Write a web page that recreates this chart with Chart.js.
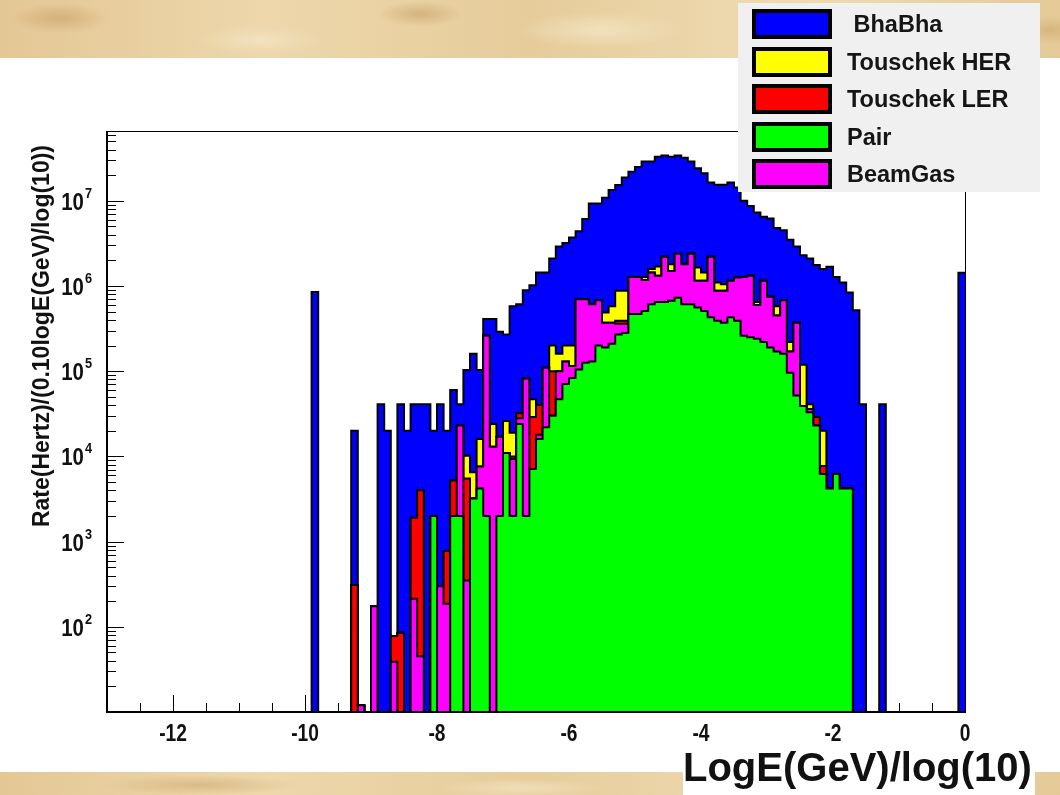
<!DOCTYPE html>
<html>
<head>
<meta charset="utf-8">
<script src="https://cdn.jsdelivr.net/npm/chart.js@4.4.1/dist/chart.umd.min.js"></script>
<style>
  html, body { margin: 0; padding: 0; }
  body {
    width: 1060px; height: 795px; overflow: hidden; position: relative;
    background-color: #e7cd9d;
    background-image:
      radial-gradient(ellipse 70px 22px at 60px 18px, rgba(196,156,96,.55), rgba(196,156,96,0) 70%),
      radial-gradient(ellipse 90px 20px at 260px 40px, rgba(243,228,196,.8), rgba(243,228,196,0) 70%),
      radial-gradient(ellipse 60px 18px at 420px 14px, rgba(190,150,92,.5), rgba(190,150,92,0) 70%),
      radial-gradient(ellipse 120px 26px at 600px 30px, rgba(245,232,200,.7), rgba(245,232,200,0) 70%),
      radial-gradient(ellipse 50px 20px at 1050px 30px, rgba(200,160,100,.5), rgba(200,160,100,0) 70%),
      radial-gradient(ellipse 140px 14px at 200px 785px, rgba(200,162,104,.5), rgba(200,162,104,0) 70%),
      radial-gradient(ellipse 120px 14px at 520px 788px, rgba(244,230,198,.7), rgba(244,230,198,0) 70%),
      linear-gradient(90deg, #e4c795 0%, #edd7ab 25%, #e6cc9b 50%, #efdbb2 75%, #e5ca98 100%);
  }
  #sheet { position: absolute; left: 0; top: 58px; width: 1060px; height: 714px; background: #fff; }
  #plot { position: absolute; left: 0; top: 0; }
  #legend {
    position: absolute; left: 738px; top: 3px; width: 302px; height: 189px;
    background: #f0f0f0;
    font: bold 23.5px "Liberation Sans", Arial, sans-serif; color: #151515;
  }
  #legend .row { position: absolute; left: 0; height: 30px; width: 302px; }
  #legend .box {
    position: absolute; left: 14px; top: 0; width: 72px; height: 22px;
    border: 4px solid #000; filter: blur(0.4px);
  }
  #legend .name { position: absolute; left: 109px; top: 2px; line-height: 26px; filter: blur(0.3px); }
  #xtitle {
    position: absolute; left: 683px; top: 742px; width: 352px; height: 53px; background: #fff;
    font: bold 40px "Liberation Sans", Arial, sans-serif; color: #111; line-height: 50px;
    white-space: nowrap; filter: blur(0.3px);
  }
</style>
</head>
<body>
<div id="sheet"></div>
<canvas id="plot" width="1060" height="795"></canvas>
<div id="legend"></div>
<div id="xtitle">LogE(GeV)/log(10)</div>
<script>
// histogram binning: 130 bins of 0.1 in log10(E/GeV), from -13 to 0
const xMin = -13;
const binWidth = 0.1;

// rate per bin for each background source
const pairRate = [
  0, 0, 0, 0, 0, 0, 0, 0, 0, 0,
  0, 0, 0, 0, 0, 0, 0, 0, 0, 0,
  0, 0, 0, 0, 0, 0, 0, 0, 0, 0,
  0, 0, 0, 0, 0, 0, 0, 0, 0, 0,
  0, 0, 0, 0, 0, 0, 0, 0, 0, 2000,
  0, 0, 2000, 2000, 0, 3200, 4200, 2000, 0, 2000,
  11000, 2000, 24000, 2000, 7100, 16000, 22000, 30000, 47000, 71000,
  83000, 105000, 126000, 130000, 200000, 190000, 210000, 270000, 280000, 470000,
  470000, 510000, 610000, 650000, 650000, 670000, 730000, 610000, 610000, 560000,
  510000, 430000, 390000, 370000, 430000, 390000, 260000, 250000, 240000, 220000,
  190000, 170000, 160000, 96000, 52000, 39000, 33000, 23000, 6200, 4200,
  6200, 4200, 4200, 0, 0, 0, 0, 0, 0, 0,
  0, 0, 0, 0, 0, 0, 0, 0, 0, 0
];
const beamGasRate = [
  0, 0, 0, 0, 0, 0, 0, 0, 0, 0,
  0, 0, 0, 0, 0, 0, 0, 0, 0, 0,
  0, 0, 0, 0, 0, 0, 0, 0, 0, 0,
  0, 0, 0, 0, 0, 0, 0, 0, 12, 0,
  174, 0, 0, 39, 0, 0, 214, 45, 0, 0,
  300, 187, 0, 21000, 350, 0, 3400, 258000, 13000, 15000,
  0, 7300, 4000, 80000, 0, 2000, 88000, 0, 53000, 59000,
  32000, 595000, 574000, 480000, 480000, 180000, 160000, 90000, 80000, 810000,
  810000, 670000, 830000, 670000, 1550000, 830000, 1670000, 1190000, 1790000, 590000,
  640000, 1770000, 490000, 510000, 720000, 870000, 1020000, 1070000, 360000, 930000,
  560000, 280000, 520000, 74000, 318000, 0, 3000, 0, 0, 0,
  0, 0, 0, 0, 0, 0, 0, 0, 0, 0,
  0, 0, 0, 0, 0, 0, 0, 0, 0, 0
];
const touschekLerRate = [
  0, 0, 0, 0, 0, 0, 0, 0, 0, 0,
  0, 0, 0, 0, 0, 0, 0, 0, 0, 0,
  0, 0, 0, 0, 0, 0, 0, 0, 0, 0,
  0, 0, 0, 0, 0, 0, 0, 310, 0, 0,
  0, 0, 0, 39, 85, 0, 1690, 3960, 0, 0,
  0, 590, 3200, 0, 5150, 0, 0, 0, 0, 0,
  0, 700, 4000, 0, 21900, 22000, 0, 70000, 0, 0,
  0, 0, 0, 0, 0, 0, 0, 30000, 30000, 0,
  0, 0, 0, 0, 0, 0, 0, 0, 0, 0,
  0, 0, 0, 0, 0, 0, 0, 0, 0, 0,
  0, 0, 0, 0, 0, 0, 0, 6000, 1500, 0,
  0, 0, 0, 0, 0, 0, 0, 0, 0, 0,
  0, 0, 0, 0, 0, 0, 0, 0, 0, 0
];
const touschekHerRate = [
  0, 0, 0, 0, 0, 0, 0, 0, 0, 0,
  0, 0, 0, 0, 0, 0, 0, 0, 0, 0,
  0, 0, 0, 0, 0, 0, 0, 0, 0, 0,
  0, 0, 0, 0, 0, 0, 0, 0, 0, 0,
  0, 0, 0, 0, 0, 0, 0, 0, 0, 0,
  0, 0, 0, 0, 4700, 3300, 8400, 0, 11000, 0,
  15000, 9000, 0, 0, 18000, 0, 0, 100000, 60000, 70000,
  85000, 0, 0, 0, 0, 120000, 210000, 490000, 490000, 0,
  0, 100000, 140000, 380000, 0, 300000, 0, 0, 0, 500000,
  290000, 0, 220000, 170000, 0, 0, 0, 0, 50000, 0,
  0, 130000, 0, 50000, 0, 80000, 5000, 0, 12300, 0,
  0, 0, 0, 0, 0, 0, 0, 0, 0, 0,
  0, 0, 0, 0, 0, 0, 0, 0, 0, 0
];
const bhabhaRate = [
  0, 0, 0, 0, 0, 0, 0, 0, 0, 0,
  0, 0, 0, 0, 0, 0, 0, 0, 0, 0,
  0, 0, 0, 0, 0, 0, 0, 0, 0, 0,
  0, 850000, 0, 0, 0, 0, 0, 19700, 0, 0,
  0, 41000, 20000, 0, 40900, 20000, 39100, 37000, 41000, 18000,
  40700, 19200, 54800, 18000, 92800, 153500, 87000, 150000, 386000, 273000,
  244000, 561000, 578000, 808000, 973000, 1400000, 1330000, 1900000, 2740000, 3000000,
  3500000, 3700000, 5400000, 8690000, 8620000, 10400000, 12800000, 14500000, 17900000, 20700000,
  23700000, 27700000, 27400000, 31300000, 31800000, 31200000, 31600000, 30200000, 26600000, 22400000,
  19600000, 14200000, 14300000, 14350000, 15250000, 13040000, 8720000, 7380000, 6650000, 5350000,
  5450000, 4220000, 3820000, 3280000, 2530000, 2180000, 2060000, 1740000, 1560000, 1676000,
  1274000, 1096000, 836000, 520000, 41000, 0, 0, 41000, 0, 0,
  0, 0, 0, 0, 0, 0, 0, 0, 0, 1430000
];

// axis decorations
const xLabelTicks = [-12, -10, -8, -6, -4, -2, 0];
const yLabelExponents = [2, 3, 4, 5, 6, 7];
const yMin = 10;
const yMax = 6.6e7;

// legend order as shown in the box; stack order is bottom-up
const legendItems = [
  { name: ' BhaBha', color: '#0000ff' },
  { name: 'Touschek HER', color: '#ffff00' },
  { name: 'Touschek LER', color: '#ff0000' },
  { name: 'Pair', color: '#00ff00' },
  { name: 'BeamGas', color: '#ff00ff' }
];
const stack = [
  { label: 'Pair', rates: pairRate, color: '#00ff00' },
  { label: 'BeamGas', rates: beamGasRate, color: '#ff00ff' },
  { label: 'Touschek LER', rates: touschekLerRate, color: '#ff0000' },
  { label: 'Touschek HER', rates: touschekHerRate, color: '#ffff00' },
  { label: 'BhaBha', rates: bhabhaRate, color: '#0000ff' }
];

// step points at the low edge of each bin, closed at the upper edge of the last one.
// data is handed over pre-parsed so that empty bins sit on the axis floor
// instead of being dropped by the log scale
function toSteps(rates) {
  const pts = rates.map((v, i) => ({ x: xMin + i * binWidth, y: v }));
  pts.push({ x: xMin + rates.length * binWidth, y: rates[rates.length - 1] });
  return pts;
}

const FONT = '"Liberation Sans", Arial, sans-serif';

function squeezedText(ctx, text, x, y, sx) {
  ctx.save();
  ctx.translate(x, y);
  ctx.scale(sx, 1);
  ctx.fillText(text, 0, 0);
  ctx.restore();
}

// ROOT-like frame: ticks inside the pad, bold labels
const rootAxes = {
  id: 'rootAxes',
  beforeDatasetsDraw(chart) {
    const { ctx, chartArea: a, scales: { x, y } } = chart;
    ctx.save();
    ctx.strokeStyle = '#000';
    ctx.lineWidth = 1;
    ctx.beginPath();
    for (let v = -13; v <= 0.001; v += 0.5) {
      const px = Math.round(x.getPixelForValue(v)) + 0.5;
      const len = Math.abs(v % 2) < 0.01 ? 17 : 9;
      ctx.moveTo(px, a.bottom);
      ctx.lineTo(px, a.bottom - len);
    }
    for (let e = 1; e <= 7; e++) {
      for (let m = 1; m <= 9; m++) {
        const v = m * Math.pow(10, e);
        if (v > yMax) break;
        const py = Math.round(y.getPixelForValue(v)) + 0.5;
        const len = m === 1 ? 17 : 9;
        ctx.moveTo(a.left, py);
        ctx.lineTo(a.left + len, py);
      }
    }
    ctx.stroke();
    ctx.restore();
  },
  afterDatasetsDraw(chart) {
    const { ctx, chartArea: a } = chart;
    ctx.save();
    ctx.strokeStyle = '#000';
    ctx.lineWidth = 1;
    ctx.strokeRect(a.left + 0.5, a.top + 0.5, a.right - a.left, a.bottom - a.top);
    ctx.lineWidth = 2;
    ctx.beginPath();
    ctx.moveTo(a.left, a.top);
    ctx.lineTo(a.left, a.bottom);
    ctx.lineTo(a.right, a.bottom);
    ctx.stroke();
    ctx.restore();
  },
  afterDraw(chart) {
    const { ctx, chartArea: a, scales: { x, y } } = chart;
    ctx.save();
    ctx.fillStyle = '#111';
    ctx.textBaseline = 'alphabetic';

    // x tick labels
    ctx.font = 'bold 24px ' + FONT;
    for (const v of xLabelTicks) {
      const text = String(v);
      const w = ctx.measureText(text).width * 0.8;
      squeezedText(ctx, text, x.getPixelForValue(v) - w / 2, a.bottom + 29, 0.8);
    }

    // y tick labels 10^n
    for (const e of yLabelExponents) {
      const py = y.getPixelForValue(Math.pow(10, e));
      ctx.font = 'bold 15px ' + FONT;
      const ew = ctx.measureText(String(e)).width * 0.85;
      const right = 92;
      squeezedText(ctx, String(e), right - ew, py - 3, 0.85);
      ctx.font = 'bold 24px ' + FONT;
      const bw = ctx.measureText('10').width * 0.85;
      squeezedText(ctx, '10', right - ew - 1 - bw, py + 9, 0.85);
    }

    // y axis title, aligned to the top end of the axis
    ctx.font = 'bold 23px ' + FONT;
    ctx.translate(49, a.top + 14);
    ctx.rotate(-Math.PI / 2);
    ctx.textAlign = 'right';
    ctx.fillText('Rate(Hertz)/(0.10logE(GeV)/log(10))', 0, 0);
    ctx.restore();
  }
};

new Chart(document.getElementById('plot'), {
  type: 'line',
  data: {
    datasets: stack.map(s => ({
      label: s.label,
      data: toSteps(s.rates),
      stepped: true,
      fill: 'origin',
      backgroundColor: s.color,
      borderColor: '#000',
      borderWidth: 2,
      pointRadius: 0,
      tension: 0
    }))
  },
  options: {
    responsive: false,
    animation: false,
    devicePixelRatio: 1,
    events: [],
    parsing: false,
    normalized: true,
    layout: { padding: { left: 107, top: 131, right: 95, bottom: 83 } },
    scales: {
      x: { type: 'linear', min: -13, max: 0, display: false },
      y: { type: 'logarithmic', min: yMin, max: yMax, stacked: true, display: false }
    },
    plugins: {
      legend: { display: false },
      tooltip: { enabled: false }
    }
  },
  plugins: [rootAxes]
});

// legend box
const legend = document.getElementById('legend');
legendItems.forEach((item, i) => {
  const row = document.createElement('div');
  row.className = 'row';
  row.style.top = (6 + i * 37.5) + 'px';
  const box = document.createElement('div');
  box.className = 'box';
  box.style.background = item.color;
  const name = document.createElement('div');
  name.className = 'name';
  name.textContent = item.name;
  name.style.whiteSpace = 'pre';
  row.appendChild(box);
  row.appendChild(name);
  legend.appendChild(row);
});
</script>
</body>
</html>
